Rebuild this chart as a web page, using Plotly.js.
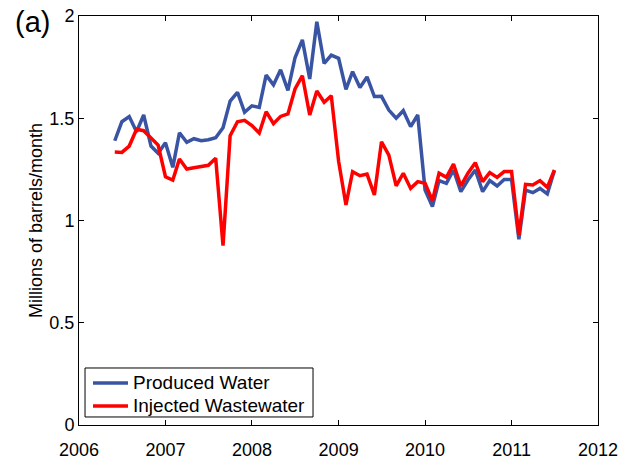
<!DOCTYPE html>
<html>
<head>
<meta charset="utf-8">
<script src="https://cdn.plot.ly/plotly-3.0.1.min.js"></script>
<style>html,body{margin:0;padding:0;background:#fff;}#chart{width:629px;height:459px;}</style>
</head>
<body>
<div id="chart"></div>
<script>
// Monthly dates, Jun 2006 .. Jul 2011
const months = [
 '2006-06-01','2006-07-01','2006-08-01','2006-09-01','2006-10-01','2006-11-01','2006-12-01',
 '2007-01-01','2007-02-01','2007-03-01','2007-04-01','2007-05-01','2007-06-01','2007-07-01','2007-08-01','2007-09-01','2007-10-01','2007-11-01','2007-12-01',
 '2008-01-01','2008-02-01','2008-03-01','2008-04-01','2008-05-01','2008-06-01','2008-07-01','2008-08-01','2008-09-01','2008-10-01','2008-11-01','2008-12-01',
 '2009-01-01','2009-02-01','2009-03-01','2009-04-01','2009-05-01','2009-06-01','2009-07-01','2009-08-01','2009-09-01','2009-10-01','2009-11-01','2009-12-01',
 '2010-01-01','2010-02-01','2010-03-01','2010-04-01','2010-05-01','2010-06-01','2010-07-01','2010-08-01','2010-09-01','2010-10-01','2010-11-01','2010-12-01',
 '2011-01-01','2011-02-01','2011-03-01','2011-04-01','2011-05-01','2011-06-01','2011-07-01'
];
const producedWater = [
 1.390,1.483,1.508,1.434,1.516,1.364,1.329,
 1.380,1.260,1.429,1.382,1.400,1.390,1.395,1.405,1.454,1.584,1.627,1.529,
 1.561,1.553,1.711,1.663,1.737,1.636,1.796,1.883,1.692,1.972,1.768,1.809,
 1.793,1.641,1.728,1.650,1.702,1.606,1.607,1.540,1.500,1.537,1.459,1.516,
 1.149,1.068,1.195,1.182,1.247,1.141,1.198,1.247,1.141,1.195,1.169,1.201,
 1.201,0.908,1.149,1.136,1.157,1.130,1.244
];
const injectedWastewater = [
 1.335,1.333,1.364,1.446,1.439,1.402,1.369,
 1.214,1.198,1.301,1.252,1.258,1.263,1.270,1.305,0.877,1.415,1.483,1.490,
 1.464,1.428,1.532,1.473,1.509,1.521,1.643,1.708,1.516,1.633,1.578,1.610,
 1.290,1.076,1.239,1.219,1.227,1.125,1.385,1.320,1.169,1.231,1.157,1.190,
 1.182,1.097,1.231,1.211,1.276,1.169,1.231,1.283,1.190,1.234,1.211,1.239,
 1.239,0.929,1.177,1.174,1.195,1.162,1.247
];
const seriesNames = ['Produced Water', 'Injected Wastewater'];
const seriesColors = ['#3a54a4', '#ff0000'];
const yTickVals = [0, 0.5, 1, 1.5, 2];
const yTickText = ['0', '0.5', '1', '1.5', '2'];

const font = 'Liberation Sans, Arial, Helvetica, sans-serif';

const traces = [
  {x: months, y: producedWater, type: 'scatter', mode: 'lines', name: seriesNames[0],
   line: {color: seriesColors[0], width: 3.5}},
  {x: months, y: injectedWastewater, type: 'scatter', mode: 'lines', name: seriesNames[1],
   line: {color: seriesColors[1], width: 3.5}}
];

const axisCommon = {
  showline: true, linecolor: '#000', linewidth: 1, mirror: 'ticks',
  ticks: 'inside', ticklen: 5, tickwidth: 1, tickcolor: '#000',
  showgrid: false, zeroline: false,
  tickfont: {family: font, size: 18, color: '#000'}
};

// Legend box drawn in paper coordinates (matches the boxed legend of the original)
const legBox = {x0: 0.0116, x1: 0.4509, y0: 0.0196, y1: 0.1394};
const legRowsY = [0.1027, 0.0465];
const legLineX = [0.0270, 0.0944];
const legTextX = 0.1002;

const shapes = [{
  type: 'rect', xref: 'paper', yref: 'paper',
  x0: legBox.x0, x1: legBox.x1, y0: legBox.y0, y1: legBox.y1,
  line: {color: '#000', width: 1}, fillcolor: '#fff', layer: 'above'
}];
const annotations = [{
  text: '(a)', xref: 'paper', yref: 'paper', x: -0.128, y: 0.985,
  xanchor: 'left', yanchor: 'middle', showarrow: false,
  font: {family: font, size: 29, color: '#000'}
}];
seriesNames.forEach((nm, i) => {
  shapes.push({
    type: 'line', xref: 'paper', yref: 'paper',
    x0: legLineX[0], x1: legLineX[1], y0: legRowsY[i], y1: legRowsY[i],
    line: {color: seriesColors[i], width: 3.5}, layer: 'above'
  });
  annotations.push({
    text: nm, xref: 'paper', yref: 'paper', x: legTextX, y: legRowsY[i],
    xanchor: 'left', yanchor: 'middle', showarrow: false,
    font: {family: font, size: 19, color: '#000'}
  });
});

const layout = {
  width: 629, height: 459,
  margin: {l: 79, r: 31, t: 16, b: 34, pad: 0},
  paper_bgcolor: '#fff', plot_bgcolor: '#fff',
  showlegend: false,
  xaxis: Object.assign({}, axisCommon, {
    type: 'date', range: ['2006-01-01', '2012-01-01'],
    dtick: 'M12', tick0: '2006-01-01', tickformat: '%Y',
    ticklabelstandoff: 8
  }),
  yaxis: Object.assign({}, axisCommon, {
    range: [0, 2], tickvals: yTickVals, ticktext: yTickText,
    ticklabelstandoff: 0,
    title: {text: 'Millions of barrels/month', font: {family: font, size: 18, color: '#000'}, standoff: 2}
  }),
  shapes: shapes,
  annotations: annotations
};

Plotly.newPlot('chart', traces, layout, {displayModeBar: false, staticPlot: true});
</script>
</body>
</html>
